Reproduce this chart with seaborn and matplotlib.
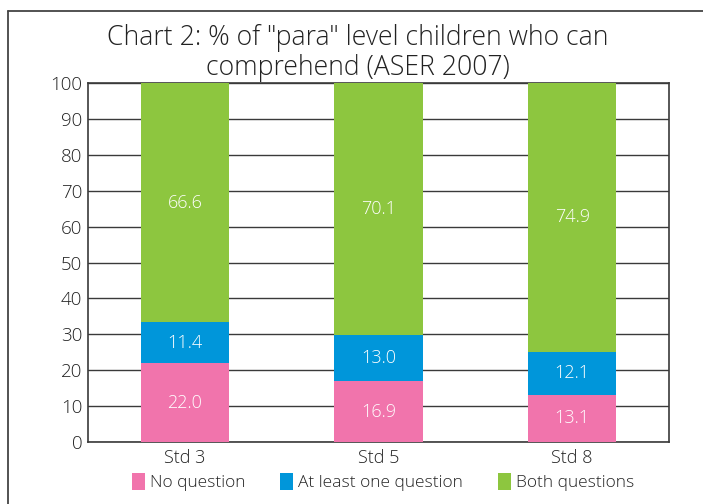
import pandas as pd
import matplotlib.pyplot as plt
import seaborn as sns
from matplotlib.patches import Patch
from matplotlib.lines import Line2D

# Data
standards = ["Std 3", "Std 5", "Std 8"]
no_question = [22.0, 16.9, 13.1]
at_least_one = [11.4, 13.0, 12.1]
both_questions = [66.6, 70.1, 74.9]

series_names = ["No question", "At least one question", "Both questions"]
colors = ["#F174AC", "#0096DA", "#8DC63F"]

sns.set_theme(style="white")
plt.rcParams['font.family'] = ['Open Sans', 'DejaVu Sans']
plt.rcParams['font.weight'] = 'light'

df = pd.DataFrame({
    "Std": standards,
    "No question": no_question,
    "At least one question": at_least_one,
    "Both questions": both_questions,
})
# cumulative tops for stacking
df["top1"] = df["No question"]
df["top2"] = df["top1"] + df["At least one question"]
df["top3"] = df["top2"] + df["Both questions"]

fig = plt.figure(figsize=(7.03, 5.04), dpi=100)
ax = fig.add_axes([88 / 703, 1 - 442 / 504, (669 - 88) / 703, (442 - 83) / 504])

# draw tallest first, then overlay shorter
for col, c in zip(["top3", "top2", "top1"], colors[::-1]):
    sns.barplot(data=df, x="Std", y=col, color=c, width=0.455,
                saturation=1, ax=ax, zorder=3, linewidth=0)

ax.set_ylim(0, 100)
ax.set_yticks(range(0, 101, 10))
ax.set_xlabel("")
ax.set_ylabel("")
ax.grid(axis="y", color="#3a3a3a", linewidth=1.0, zorder=0)
ax.grid(axis="x", visible=False)
for s in ax.spines.values():
    s.set_color("#3a3a3a")
    s.set_linewidth(1.2)
ax.tick_params(axis="y", labelsize=13.5, colors="#222222", length=0, pad=4)
ax.tick_params(axis="x", labelsize=13, colors="#222222", length=0, pad=5)

# segment labels
for i in range(len(standards)):
    bottoms = [0, df["top1"][i], df["top2"][i]]
    vals = [no_question[i], at_least_one[i], both_questions[i]]
    for b, v in zip(bottoms, vals):
        ax.text(i, b + v / 2, f"{v:.1f}", ha="center", va="center",
                color="white", fontsize=13, zorder=5)

# title
fig.text(358 / 703, 1 - 53 / 504,
         'Chart 2: % of "para" level children who can\ncomprehend (ASER 2007)',
         ha="center", va="center", fontsize=19.2, color="#222222",
         linespacing=1.08)

# legend
handles = [Patch(facecolor=c, edgecolor="none") for c in colors]
fig.legend(handles, series_names, loc="center", ncol=3,
           bbox_to_anchor=(383 / 703, 1 - 482 / 504), frameon=False,
           fontsize=12.5, handletextpad=0.3, columnspacing=2.0,
           handlelength=0.75, handleheight=1.1)

# outer frame (cut at right and bottom)
fig.add_artist(Line2D([8 / 703, 8 / 703], [0, 1 - 11 / 504],
                      transform=fig.transFigure, color="#444444", lw=1.3))
fig.add_artist(Line2D([8 / 703, 1], [1 - 11 / 504, 1 - 11 / 504],
                      transform=fig.transFigure, color="#444444", lw=1.3))

fig.savefig("out.png", dpi=100)
